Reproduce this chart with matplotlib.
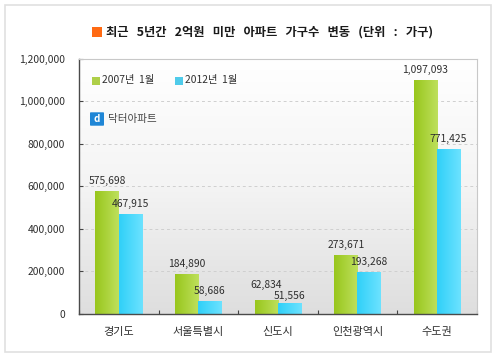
"""Households in apartments under 200M won, 2007 vs 2012."""

import matplotlib.pyplot as plt
import numpy as np
from matplotlib.colors import LinearSegmentedColormap
from matplotlib.patches import FancyBboxPatch, Rectangle

plt.rcParams["font.family"] = ["Noto Sans CJK KR", "DejaVu Sans"]

CATEGORIES = ["경기도", "서울특별시", "신도시", "인천광역시", "수도권"]
VALUES_2007 = [575698, 184890, 62834, 273671, 1097093]
VALUES_2012 = [467915, 58686, 51556, 193268, 771425]
SERIES_NAMES = ["2007년  1월", "2012년  1월"]
Y_TICKS = [0, 200000, 400000, 600000, 800000, 1000000, 1200000]
TITLE = "최근 5년간 2억원 미만 아파트 가구수 변동 (단위 : 가구)"

GREEN = LinearSegmentedColormap.from_list("green", ["#98C61C", "#BEE05C"])
BLUE = LinearSegmentedColormap.from_list("blue", ["#30D0F8", "#6CE2FF"])
BACKGROUND = LinearSegmentedColormap.from_list("bg", ["#DEDEDE", "#F4F4F4", "#FFFFFF"])
TEXT = "#2E2E2E"
WIDTH = 0.293


def gradient_bars(ax, positions, values, cmap):
    bars = ax.bar(positions, values, width=WIDTH, color="none", zorder=2)
    ramp = np.linspace(0, 1, 64).reshape(1, -1)
    for bar in bars:
        x0, x1 = bar.get_x(), bar.get_x() + bar.get_width()
        ax.imshow(ramp, cmap=cmap, extent=[x0, x1, 0, bar.get_height()],
                  aspect="auto", zorder=2)
    for x, value in zip(positions, values):
        # the two 신도시 labels sit apart so they do not collide
        lift = {62834: 11, 51556: 5}.get(value, 7.5)
        ax.annotate(f"{value:,}", (x, value), xytext=(0, lift),
                    textcoords="offset points", ha="center", va="center",
                    fontsize=7.4, color=TEXT, zorder=4)


def fig_rect(fig, x, y, w, h, color):
    fig.add_artist(Rectangle((x / 500, 1 - (y + h) / 356), w / 500, h / 356,
                             transform=fig.transFigure, facecolor=color,
                             edgecolor="none", zorder=5))


def fig_text(fig, x, y, text, **kwargs):
    fig.text(x / 500, 1 - y / 356, text, va="center", zorder=5, **kwargs)


def main():
    fig = plt.figure(figsize=(5, 3.56), dpi=100, facecolor="white")
    fig.add_artist(Rectangle((4.5 / 500, 1 - 351.5 / 356), 486 / 500, 347 / 356,
                             transform=fig.transFigure, facecolor="white",
                             edgecolor="#E0E0E0", linewidth=1.2, zorder=-1))
    ax = fig.add_axes([79 / 500, 42.3 / 356, 397.7 / 500, 255.2 / 356])

    x = np.arange(len(CATEGORIES))
    gradient_bars(ax, x - WIDTH / 2, VALUES_2007, GREEN)
    gradient_bars(ax, x + WIDTH / 2, VALUES_2012, BLUE)

    ax.imshow(np.linspace(0, 1, 128).reshape(-1, 1), cmap=BACKGROUND,
              extent=[0, 1, 0, 1], transform=ax.transAxes, aspect="auto",
              origin="lower", zorder=0)
    ax.set_xlim(-0.5, len(CATEGORIES) - 0.5)
    ax.set_ylim(0, 1200000)

    ax.set_yticks(Y_TICKS)
    ax.set_yticklabels([f"{t:,}" for t in Y_TICKS], fontsize=7.4, color=TEXT)
    ax.tick_params(axis="y", direction="in", length=3, width=0.8, pad=10,
                   color="#444444")
    ax.set_xticks(np.arange(len(CATEGORIES) + 1) - 0.5)
    ax.set_xticklabels([])
    ax.tick_params(axis="x", which="major", direction="in", length=3, width=0.8,
                   color="#444444")
    ax.set_xticks(x, minor=True)
    ax.set_xticklabels(CATEGORIES, minor=True, fontsize=8, color=TEXT)
    ax.tick_params(axis="x", which="minor", length=0, pad=9.5)
    ax.grid(axis="y", linestyle=(0, (3, 3)), color="#CFCFCF", linewidth=0.7,
            zorder=1)
    ax.set_axisbelow(True)
    for side in ("left", "bottom"):
        ax.spines[side].set_color("#4A4A4A")
        ax.spines[side].set_linewidth(1.0)
    for side in ("top", "right"):
        ax.spines[side].set_color("#C8C8C8")
        ax.spines[side].set_linewidth(0.8)

    # title
    fig_rect(fig, 92, 27.5, 9.5, 9.5, "#FF6A13")
    fig_text(fig, 106, 32, TITLE.replace(" ", "   "), fontsize=8.85,
             fontweight="bold", color="#1A1A1A")

    # legend
    fig_rect(fig, 92, 77, 7.5, 7.5, "#AECF48")
    fig_text(fig, 102, 80, SERIES_NAMES[0], fontsize=7.4, color=TEXT)
    fig_rect(fig, 175, 77, 7.5, 7.5, "#4FCBEA")
    fig_text(fig, 185, 80, SERIES_NAMES[1], fontsize=7.4, color=TEXT)

    # logo
    fig.add_artist(FancyBboxPatch((91 / 500, 1 - 125 / 356), 12 / 500, 12 / 356,
                                  boxstyle="round,pad=0.002", facecolor="#1F86D6",
                                  edgecolor="none", transform=fig.transFigure,
                                  zorder=5))
    fig.text(97 / 500, 1 - 119 / 356, "d", color="white", fontsize=7,
             fontweight="bold", ha="center", va="center", zorder=6)
    fig_text(fig, 108, 119, "닥터아파트", fontsize=7.6, color="#444444")

    fig.savefig("out.png", dpi=100)
    plt.close(fig)


if __name__ == "__main__":
    main()
